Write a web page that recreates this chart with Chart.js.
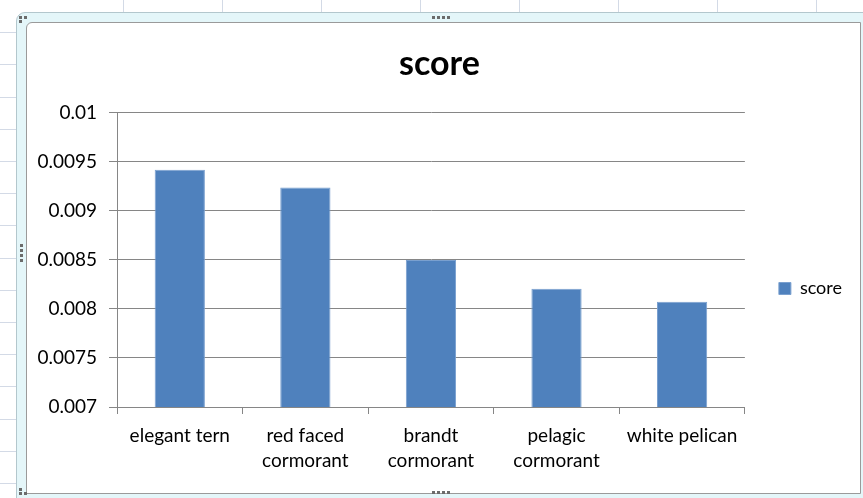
<!DOCTYPE html>
<html>
<head>
<meta charset="utf-8">
<script src="https://cdn.jsdelivr.net/npm/chart.js@4"></script>
<style>
  html, body { margin: 0; padding: 0; }
  body {
    width: 863px; height: 498px; position: relative; overflow: hidden; background: #ffffff;
    background-image:
      repeating-linear-gradient(to right, transparent 0, transparent 98px, #d3dae6 98px, #d3dae6 99px),
      repeating-linear-gradient(to bottom, transparent 0, transparent 31.2px, #d3dae6 31.2px, #d3dae6 32.2px);
    background-position: 25px 0, 0 1px;
  }
  #frame {
    position: absolute; left: 16px; top: 12px; width: 860px; height: 500px;
    background: #e4f6f9; border: 1px solid #b3c7cd; border-radius: 9px; box-sizing: border-box;
  }
  #inner {
    position: absolute; left: 26px; top: 22px; width: 835px; height: 472px;
    background: #ffffff; border: 1px solid #9a9a9a; border-radius: 6px 0 0 0; box-sizing: border-box;
  }
  #c { position: absolute; left: 27px; top: 23px; }
  .dot { position: absolute; width: 3px; height: 3px; background: #6b6b6b; }
</style>
</head>
<body>
<div id="frame"></div>
<div id="inner"></div>
<canvas id="c" width="833" height="470"></canvas>
<div class="dot" style="left:19px;top:16px"></div>
<div class="dot" style="left:24px;top:16px"></div>
<div class="dot" style="left:19px;top:20px"></div>
<div class="dot" style="left:432px;top:16px"></div>
<div class="dot" style="left:437px;top:16px"></div>
<div class="dot" style="left:442px;top:16px"></div>
<div class="dot" style="left:447px;top:16px"></div>
<div class="dot" style="left:432px;top:491px"></div>
<div class="dot" style="left:437px;top:491px"></div>
<div class="dot" style="left:442px;top:491px"></div>
<div class="dot" style="left:447px;top:491px"></div>
<div class="dot" style="left:20px;top:244px"></div>
<div class="dot" style="left:20px;top:249px"></div>
<div class="dot" style="left:20px;top:254px"></div>
<div class="dot" style="left:20px;top:259px"></div>
<div class="dot" style="left:19px;top:488px"></div>
<div class="dot" style="left:19px;top:492px"></div>
<div class="dot" style="left:24px;top:492px"></div>
<script>
const categories = [
  "elegant tern",
  ["red faced", "cormorant"],
  ["brandt", "cormorant"],
  ["pelagic", "cormorant"],
  "white pelican"
];
const seriesName = "score";
const scoreValues = [0.00942, 0.009237, 0.0085, 0.008207, 0.008072];
const yMin = 0.007;
const yMax = 0.01;
const yStep = 0.0005;
const chartTitle = "score";

const FONT = "Lato, 'Carlito', 'Liberation Sans', sans-serif";
const GRID = "#868686";

new Chart(document.getElementById("c"), {
  type: "bar",
  data: {
    labels: categories,
    datasets: [{
      label: seriesName,
      data: scoreValues,
      backgroundColor: "#4f81bd",
      borderColor: "#7aa0cf",
      borderWidth: 1,
      categoryPercentage: 1.0,
      barPercentage: 0.4
    }]
  },
  options: {
    responsive: false,
    devicePixelRatio: 1,
    animation: false,
    layout: { padding: { left: 0, top: 0, right: 8, bottom: 0 } },
    plugins: {
      title: {
        display: true,
        text: chartTitle,
        color: "#000000",
        font: { family: FONT, size: 34, weight: "bold" },
        padding: { top: 21, bottom: 28 }
      },
      legend: {
        display: true,
        position: "right",
        fullSize: false,
        align: "center",
        title: { display: true, text: "", font: { size: 1 }, padding: { top: 28, bottom: 28 } },
        labels: {
          color: "#000000",
          font: { family: FONT, size: 18 },
          boxWidth: 12,
          boxHeight: 12,
          padding: 34
        }
      },
      tooltip: { enabled: false }
    },
    scales: {
      x: {
        afterFit: (axis) => { axis.height = 86; },
        grid: {
          display: true,
          offset: true,
          drawOnChartArea: false,
          drawTicks: true,
          tickLength: 7,
          color: GRID
        },
        border: { display: true, color: GRID, width: 1 },
        ticks: {
          color: "#000000",
          font: { family: FONT, size: 19, lineHeight: 1.3 },
          padding: 10,
          maxRotation: 0,
          minRotation: 0,
          autoSkip: false
        }
      },
      y: {
        min: yMin,
        max: yMax,
        afterFit: (axis) => { axis.width = 90; },
        grid: {
          display: true,
          drawOnChartArea: true,
          drawTicks: true,
          tickLength: 8,
          color: GRID
        },
        border: { display: true, color: GRID, width: 1 },
        ticks: {
          stepSize: yStep,
          color: "#000000",
          font: { family: FONT, size: 19 },
          padding: 12,
          callback: (v) => String(Number(Number(v).toFixed(4)))
        }
      }
    }
  }
});
</script>
</body>
</html>
